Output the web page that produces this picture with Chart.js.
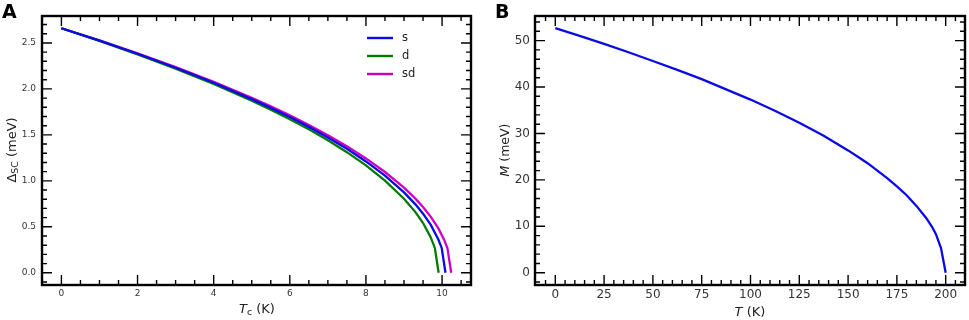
<!DOCTYPE html>
<html><head><meta charset="utf-8">
<script src="https://cdn.jsdelivr.net/npm/chart.js@4.4.1/dist/chart.umd.min.js"></script>
<style>
html,body{margin:0;padding:0;background:#fff;}
#wrap{position:relative;width:969px;height:320px;overflow:hidden;font-family:"DejaVu Sans",sans-serif;}
.pane{position:absolute;top:0;height:320px;}
#pa{left:0;width:480px;} #pb{left:480px;width:489px;}
.lbl{position:absolute;color:#222;white-space:nowrap;transform:translate(-50%,-50%);line-height:1;}
.rot{transform:translate(-50%,-50%) rotate(-90deg);}
.lbl sub{font-size:72%;vertical-align:-0.3em;line-height:0;}
.panel{position:absolute;font-weight:bold;font-size:19px;color:#000;line-height:1;}
</style>
</head><body>
<div id="wrap">
  <div class="pane" id="pa"><canvas id="ca" width="480" height="320"></canvas></div>
  <div class="pane" id="pb"><canvas id="cb" width="489" height="320"></canvas></div>
  <div class="panel" style="left:2px;top:2px;">A</div>
  <div class="panel" style="left:495px;top:2px;">B</div>
  <div class="lbl" style="left:257px;top:308px;font-size:13px;"><i>T</i><sub>c</sub> (K)</div>
  <div class="lbl rot" style="left:11px;top:150px;font-size:13px;">Δ<sub>SC</sub> (meV)</div>
  <div class="lbl" style="left:750px;top:311px;font-size:13px;"><i>T</i> (K)</div>
  <div class="lbl rot" style="left:505px;top:150px;font-size:12.5px;"><i>M</i> (meV)</div>
</div>
<script>
// ---------- Panel A data: superconducting gap vs Tc ----------
const tcS   = [0,1,2,3,4,5,5.5,6,6.5,7,7.5,8,8.5,9,9.3,9.5,9.7,9.9,9.99,10.09];
const gapS  = [2.66,2.525,2.382,2.230,2.067,1.889,1.794,1.694,1.587,1.472,1.348,1.211,1.056,0.874,0.744,0.643,0.523,0.365,0.27,0];
const tcD   = [0,1,2,3,4,5,5.5,6,6.5,7,7.5,8,8.5,9,9.3,9.5,9.7,9.81,9.91];
const gapD  = [2.66,2.522,2.376,2.221,2.054,1.872,1.774,1.671,1.560,1.441,1.312,1.168,1.003,0.806,0.660,0.541,0.387,0.27,0];
const tcSD  = [0,1,2,3,4,5,5.5,6,6.5,7,7.5,8,8.5,9,9.3,9.5,9.7,9.9,10.05,10.14,10.24];
const gapSD = [2.66,2.527,2.386,2.237,2.076,1.903,1.810,1.712,1.607,1.496,1.376,1.244,1.096,0.926,0.806,0.715,0.611,0.485,0.363,0.27,0];
const seriesNamesA = ['s','d','sd'];
const xTicksA = [0,2,4,6,8,10];
const yTicksA = [0.0,0.5,1.0,1.5,2.0,2.5];

// ---------- Panel B data: M vs T ----------
const tempB = [0,12.5,25,37.5,50,62.5,75,87.5,100,112.5,125,137.5,150,155,160,165,170,175,180,185,190,193,195,197.6,200];
const magB  = [52.7,51.0,49.3,47.5,45.6,43.7,41.7,39.5,37.3,34.9,32.3,29.5,26.35,25.0,23.6,22.0,20.4,18.6,16.7,14.4,11.8,9.9,8.3,5.3,0];
const xTicksB = [0,25,50,75,100,125,150,175,200];
const yTicksB = [0,10,20,30,40,50];

const toPts = (xs, ys) => xs.map((x, i) => ({x: x, y: ys[i]}));
const FONT = '"DejaVu Sans", sans-serif';

const framePlugin = {
  id: 'frame',
  afterDatasetsDraw(chart, args, o) {
    const {ctx, chartArea: a, scales: {x, y}} = chart;
    ctx.save();
    ctx.strokeStyle = '#000';
    ctx.lineWidth = 1.4;
    ctx.beginPath();
    const vx = (v, len) => {
      const p = x.getPixelForValue(v);
      if (p < a.left - 0.5 || p > a.right + 0.5) return;
      ctx.moveTo(p, a.bottom); ctx.lineTo(p, a.bottom - len);
      ctx.moveTo(p, a.top); ctx.lineTo(p, a.top + len);
    };
    const vy = (v, len) => {
      const p = y.getPixelForValue(v);
      if (p < a.top - 0.5 || p > a.bottom + 0.5) return;
      ctx.moveTo(a.left, p); ctx.lineTo(a.left + len, p);
      ctx.moveTo(a.right, p); ctx.lineTo(a.right - len, p);
    };
    o.xMajor.forEach(v => vx(v, 10));
    o.yMajor.forEach(v => vy(v, 10));
    for (let v = o.xMinorFrom; v <= x.max + 1e-9; v += o.xMinorStep) vx(v, 5);
    for (let v = o.yMinorFrom; v <= y.max + 1e-9; v += o.yMinorStep) vy(v, 5);
    ctx.stroke();
    ctx.lineWidth = 2.4;
    ctx.strokeRect(a.left, a.top, a.right - a.left, a.bottom - a.top);
    ctx.restore();
  }
};

const legendPlugin = {
  id: 'inlegend',
  afterDraw(chart, args, o) {
    if (!o.show) return;
    const {ctx, chartArea: a} = chart;
    ctx.save();
    ctx.font = '11.5px ' + FONT;
    ctx.textBaseline = 'middle';
    chart.data.datasets.forEach((ds, i) => {
      const yy = a.top + 22 + i * 18;
      ctx.strokeStyle = ds.borderColor;
      ctx.lineWidth = 2.4;
      ctx.beginPath();
      ctx.moveTo(a.right - 104, yy); ctx.lineTo(a.right - 78, yy);
      ctx.stroke();
      ctx.fillStyle = '#222';
      ctx.fillText(ds.label, a.right - 69, yy);
    });
    ctx.restore();
  }
};

function makeChart(id, datasets, c) {
  return new Chart(document.getElementById(id), {
    type: 'line',
    data: {datasets: datasets},
    options: {
      responsive: false, animation: false, maintainAspectRatio: false,
      layout: {padding: {left: 0, right: c.padR, top: 16, bottom: 0}},
      elements: {point: {radius: 0}, line: {borderWidth: 2.3, tension: 0}},
      plugins: {
        legend: {display: false}, tooltip: {enabled: false},
        frame: c.frame,
        inlegend: {show: c.legend}
      },
      scales: {
        x: {
          type: 'linear', min: c.xmin, max: c.xmax,
          grid: {display: false, drawTicks: false}, border: {display: false},
          ticks: {font: {family: FONT, size: c.fs}, color: '#333', padding: c.xpad,
                  maxRotation: 0, autoSkip: false, callback: c.xfmt},
          afterBuildTicks: s => { s.ticks = c.xt.map(v => ({value: v})); },
          afterFit: s => { s.height = 35; }
        },
        y: {
          type: 'linear', min: c.ymin, max: c.ymax,
          grid: {display: false, drawTicks: false}, border: {display: false},
          ticks: {font: {family: FONT, size: c.fs}, color: '#333', padding: c.ypad,
                  autoSkip: false, callback: c.yfmt},
          afterBuildTicks: s => { s.ticks = c.yt.map(v => ({value: v})); },
          afterFit: s => { s.width = c.yw; }
        }
      }
    },
    plugins: [framePlugin, legendPlugin]
  });
}

makeChart('ca', [
  {label: seriesNamesA[0], data: toPts(tcS, gapS), borderColor: '#0a0ae6'},
  {label: seriesNamesA[1], data: toPts(tcD, gapD), borderColor: '#007a00'},
  {label: seriesNamesA[2], data: toPts(tcSD, gapSD), borderColor: '#cc00c4'}
], {
  padR: 9, yw: 42, xmin: -0.51, xmax: 10.76, ymin: -0.133, ymax: 2.793,
  xt: xTicksA, yt: yTicksA, fs: 9, xpad: 3, ypad: 6, legend: true,
  xfmt: v => String(v), yfmt: v => Number(v).toFixed(1),
  frame: {xMajor: xTicksA, yMajor: yTicksA, xMinorFrom: -0.5, xMinorStep: 0.5, yMinorFrom: -0.1, yMinorStep: 0.1}
});

makeChart('cb', [
  {label: 'M', data: toPts(tempB, magB), borderColor: '#0a0ae6'}
], {
  padR: 4, yw: 55, xmin: -10.4, xmax: 209.9, ymin: -2.64, ymax: 55.3,
  xt: xTicksB, yt: yTicksB, fs: 12, xpad: 3, ypad: 5, legend: false,
  xfmt: v => String(v), yfmt: v => String(v),
  frame: {xMajor: xTicksB, yMajor: yTicksB, xMinorFrom: -5, xMinorStep: 5, yMinorFrom: -2, yMinorStep: 2}
});
</script>
</body></html>
